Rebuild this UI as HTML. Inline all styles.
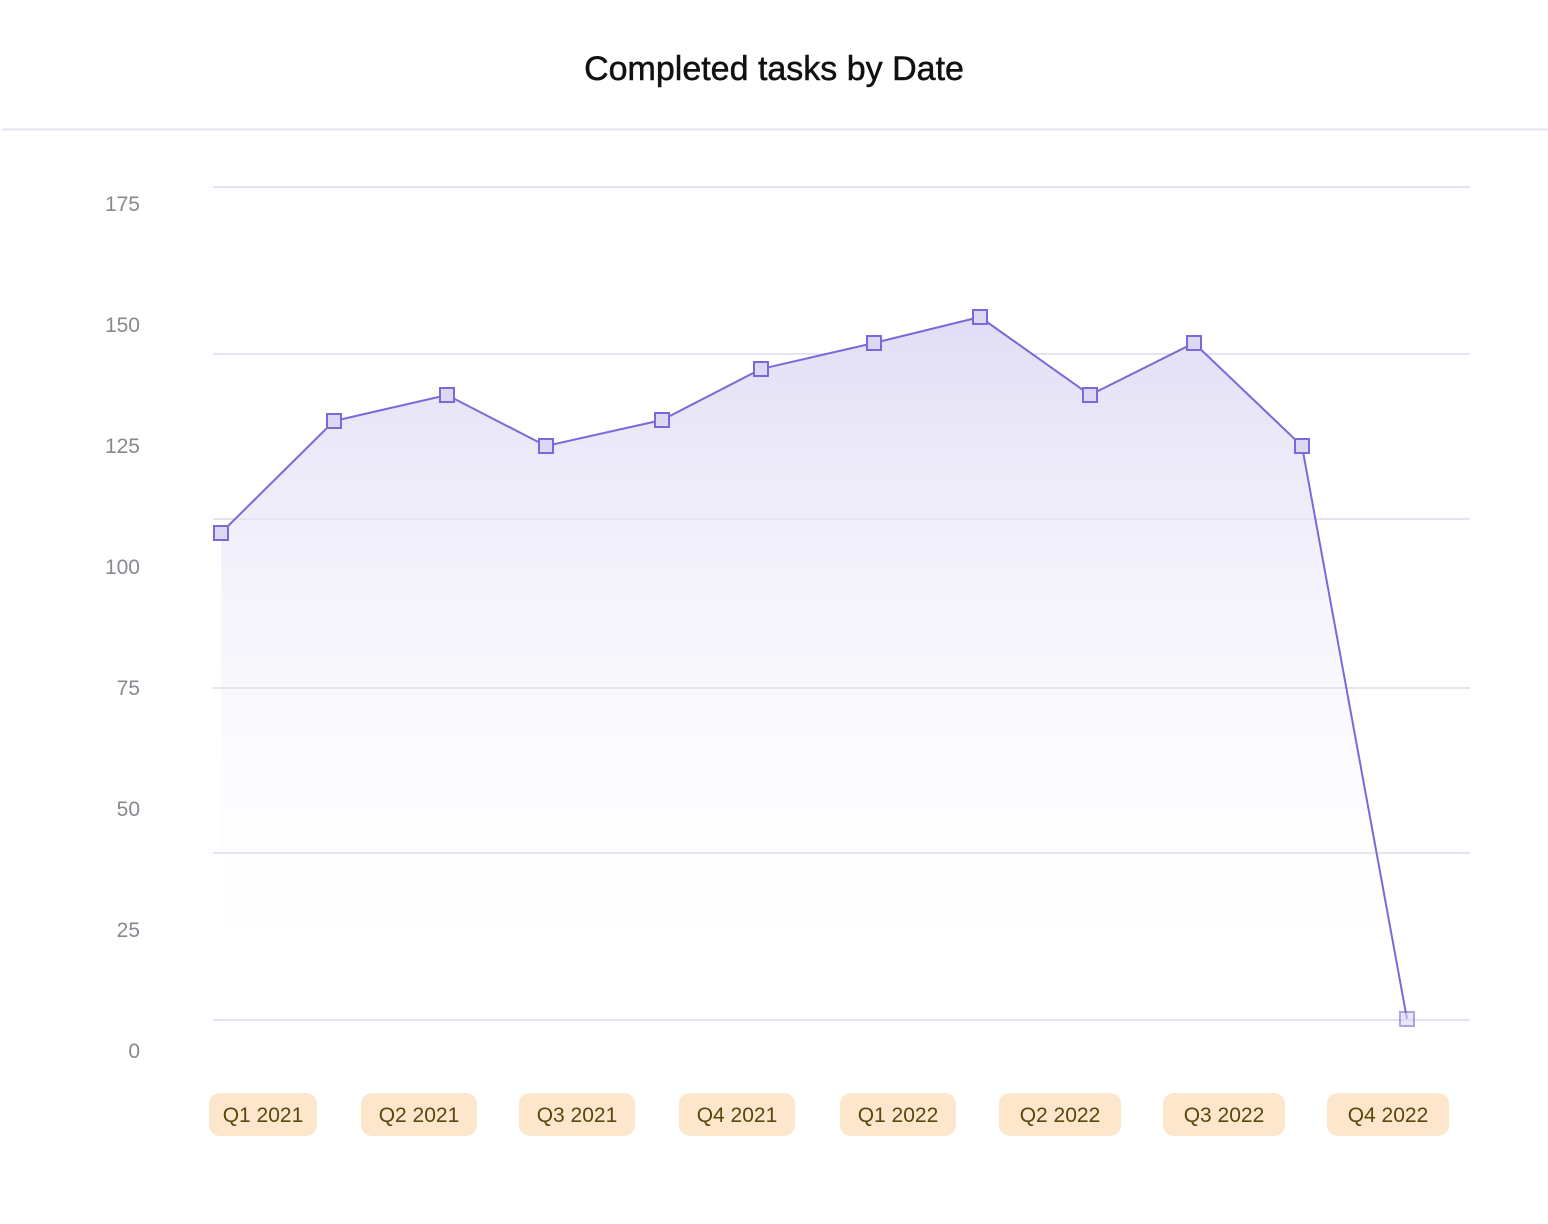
<!DOCTYPE html>
<html><head><meta charset="utf-8"><style>
html,body{margin:0;padding:0;background:#fff;}
svg{display:block;}
</style></head><body>
<svg width="1548" height="1224" xmlns="http://www.w3.org/2000/svg" font-family="Liberation Sans, sans-serif">
<defs>
<linearGradient id="g" gradientUnits="userSpaceOnUse" x1="0" y1="317" x2="0" y2="1000">
<stop offset="0" stop-color="#e2ddf5"/>
<stop offset="1" stop-color="#ffffff" stop-opacity="0"/>
</linearGradient>
</defs>
<text x="774" y="80" text-anchor="middle" font-size="34" fill="#111" stroke="#111" stroke-width="0.5">Completed tasks by Date</text>
<line x1="2" y1="129.5" x2="1548" y2="129.5" stroke="#e6e4f0" stroke-width="2"/>
<path d="M221,533 L334,421 L447,395 L546,446 L662,420 L761,369 L874,343 L980,317 L1090,395 L1194,343 L1302,446 L1407,1019 L221,1019 Z" fill="url(#g)"/>
<g stroke="#e6e4f0" stroke-width="2">
<line x1="213" y1="187" x2="1470" y2="187"/>
<line x1="213" y1="354" x2="1470" y2="354"/>
<line x1="213" y1="519" x2="1470" y2="519"/>
<line x1="213" y1="688" x2="1470" y2="688"/>
<line x1="213" y1="853" x2="1470" y2="853"/>
<line x1="213" y1="1020" x2="1470" y2="1020"/>
</g>
<g font-size="21" fill="#888891" text-anchor="end">
<text x="140" y="211">175</text>
<text x="140" y="332">150</text>
<text x="140" y="453">125</text>
<text x="140" y="574">100</text>
<text x="140" y="695">75</text>
<text x="140" y="816">50</text>
<text x="140" y="937">25</text>
<text x="140" y="1058">0</text>
</g>
<polyline points="221,533 334,421 447,395 546,446 662,420 761,369 874,343 980,317 1090,395 1194,343 1302,446 1407,1019" fill="none" stroke="#7b68d9" stroke-width="2"/>
<g fill="#dcd8f4" stroke="#7b68d9" stroke-width="2">
<rect x="214" y="526" width="14" height="14"/>
<rect x="327" y="414" width="14" height="14"/>
<rect x="440" y="388" width="14" height="14"/>
<rect x="539" y="439" width="14" height="14"/>
<rect x="655" y="413" width="14" height="14"/>
<rect x="754" y="362" width="14" height="14"/>
<rect x="867" y="336" width="14" height="14"/>
<rect x="973" y="310" width="14" height="14"/>
<rect x="1083" y="388" width="14" height="14"/>
<rect x="1187" y="336" width="14" height="14"/>
<rect x="1295" y="439" width="14" height="14"/>
<rect x="1400" y="1012" width="14" height="14" opacity="0.6"/>
</g>
<g fill="#fce7cc">
<rect x="209" y="1093" width="108" height="43" rx="11"/>
<rect x="361" y="1093" width="116" height="43" rx="11"/>
<rect x="519" y="1093" width="116" height="43" rx="11"/>
<rect x="679" y="1093" width="116" height="43" rx="11"/>
<rect x="840" y="1093" width="116" height="43" rx="11"/>
<rect x="999" y="1093" width="122" height="43" rx="11"/>
<rect x="1163" y="1093" width="122" height="43" rx="11"/>
<rect x="1327" y="1093" width="122" height="43" rx="11"/>
</g>
<g font-size="21" fill="#5c460c" text-anchor="middle">
<text x="263" y="1122">Q1 2021</text>
<text x="419" y="1122">Q2 2021</text>
<text x="577" y="1122">Q3 2021</text>
<text x="737" y="1122">Q4 2021</text>
<text x="898" y="1122">Q1 2022</text>
<text x="1060" y="1122">Q2 2022</text>
<text x="1224" y="1122">Q3 2022</text>
<text x="1388" y="1122">Q4 2022</text>
</g>
</svg>
</body></html>
